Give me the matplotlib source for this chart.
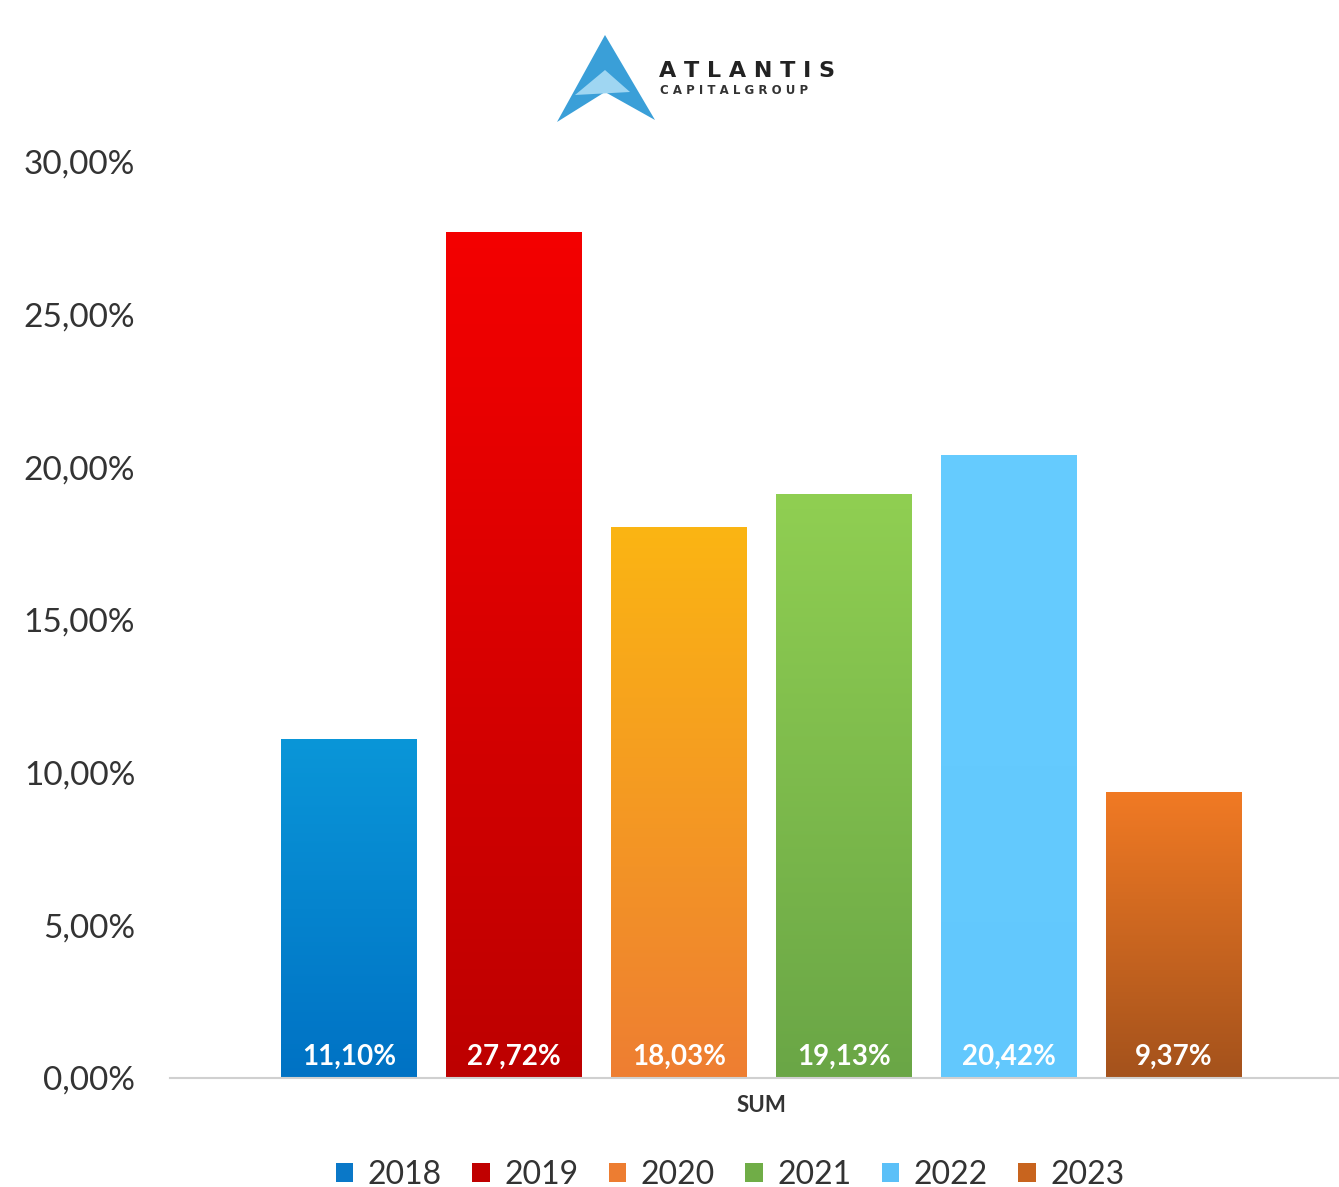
import matplotlib.pyplot as plt
import numpy as np
from matplotlib.colors import LinearSegmentedColormap
from matplotlib.patches import Patch, Polygon

YEARS = ['2018', '2019', '2020', '2021', '2022', '2023']
VALUES = [11.10, 27.72, 18.03, 19.13, 20.42, 9.37]
LABELS = ['11,10%', '27,72%', '18,03%', '19,13%', '20,42%', '9,37%']
CATEGORY = 'SUM'
Y_TICKS = [0, 5, 10, 15, 20, 25, 30]

# (bottom colour, top colour) per year
GRADIENTS = [('#0072c4', '#0a96d8'),
             ('#bd0000', '#f40000'),
             ('#ee7e32', '#fbb513'),
             ('#6aa646', '#90cf52'),
             ('#62c8fd', '#66ccff'),
             ('#a4521c', '#f17a24')]
LEGEND_COLORS = ['#0a78c8', '#c00000', '#ed7d31', '#70ad47', '#5bc0f8', '#c8641e']

plt.rcParams['font.family'] = ['Lato', 'DejaVu Sans']

fig = plt.figure(figsize=(13.39, 11.87), dpi=100)
ax = fig.add_axes([170 / 1339, 109 / 1187, 1 - 170 / 1339, 916 / 1187])

x = np.arange(len(YEARS))
width = 0.824
bars = ax.bar(x, VALUES, width=width, color='none', edgecolor='none', zorder=2)

grad = np.linspace(0, 1, 256).reshape(-1, 1)
for b, (c0, c1) in zip(bars, GRADIENTS):
    cmap = LinearSegmentedColormap.from_list('g', [c0, c1])
    x0 = b.get_x()
    im = ax.imshow(grad, extent=[x0, x0 + b.get_width(), 0, b.get_height()],
                   origin='lower', aspect='auto', cmap=cmap, zorder=2)
    im.set_clip_path(b)

for xi, lab in zip(x, LABELS):
    ax.text(xi, 0.7, lab, ha='center', va='center', color='white',
            fontsize=20, fontweight='bold', zorder=3)

ax.set_xlim((170 - 349) / 165, (1339 - 349) / 165)
ax.set_ylim(0, 30)
ax.set_yticks(Y_TICKS)
ax.set_yticklabels([f'{t},00%' for t in Y_TICKS], fontsize=24, color='#333333')
ax.tick_params(axis='y', length=0, pad=25)
ax.set_xticks([x.mean()])
ax.set_xticklabels([CATEGORY], fontsize=16, fontweight='bold', color='#333333')
ax.tick_params(axis='x', length=0, pad=12)
for s in ['top', 'right', 'left']:
    ax.spines[s].set_visible(False)
ax.spines['bottom'].set_color('#d0d0d0')
ax.spines['bottom'].set_linewidth(1.5)

handles = [Patch(facecolor=c, label=y) for c, y in zip(LEGEND_COLORS, YEARS)]
fig.legend(handles=handles, loc='center', bbox_to_anchor=(730 / 1339, 12 / 1187),
           ncol=6, frameon=False, fontsize=23, handlelength=0.55, handleheight=0.55,
           handletextpad=0.45, columnspacing=0.95, labelcolor='#333333')

# logo
fig.patches.append(Polygon([[557 / 1339, 1 - 122 / 1187], [605 / 1339, 1 - 35 / 1187],
                            [655 / 1339, 1 - 120 / 1187], [605 / 1339, 1 - 92 / 1187]],
                           closed=True, transform=fig.transFigure,
                           facecolor='#3a9fd8', edgecolor='none'))
fig.patches.append(Polygon([[575 / 1339, 1 - 95 / 1187], [605 / 1339, 1 - 70 / 1187],
                            [630 / 1339, 1 - 92 / 1187]],
                           closed=True, transform=fig.transFigure,
                           facecolor='#9fd6f2', edgecolor='none'))
fig.text(659 / 1339, 1 - 71 / 1187, 'A T L A N T I S', fontsize=16, fontweight='bold',
         color='#222222', va='center', ha='left', family='DejaVu Sans')
fig.text(660 / 1339, 1 - 91 / 1187, 'C A P I T A L G R O U P', fontsize=8.5,
         fontweight='bold', color='#333333', va='center', ha='left', family='DejaVu Sans')

fig.savefig('out.png', dpi=100)
